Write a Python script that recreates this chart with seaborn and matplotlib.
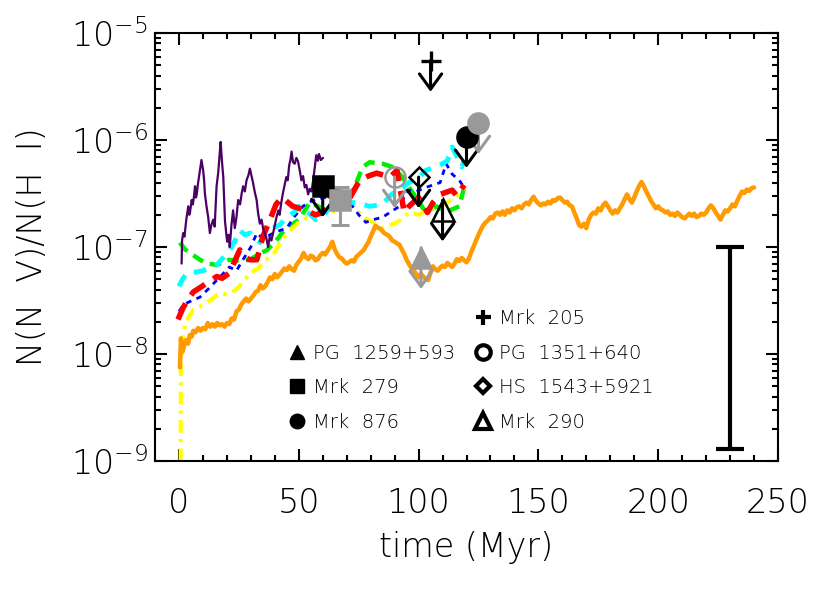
import matplotlib
matplotlib.use("Agg")
import matplotlib.pyplot as plt
import matplotlib.transforms as mtransforms
from matplotlib.lines import Line2D
from matplotlib.ticker import MultipleLocator, LogLocator, NullFormatter
import numpy as np
import seaborn as sns

# ------------------------------------------------------------------
# Simulated N(N V)/N(H I) tracks
# ------------------------------------------------------------------

orange_t = [0.4, 0.8, 1.5, 2.2, 3.0, 3.8, 4.5, 5.3, 6, 7, 8, 9, 10, 11, 12, 13, 14, 15,
            16, 17, 18, 19, 20, 21, 22, 23, 24, 25, 26, 27, 28, 29, 30, 31, 32, 33, 34,
            35, 36, 37, 38, 39, 40, 41, 42, 43, 44, 45, 46, 47, 48, 49, 50, 51, 52, 53,
            54, 55, 56, 57, 58, 59, 60, 61, 62, 63, 64, 65, 66, 67, 68, 69, 70, 71, 72,
            73, 74, 75, 76, 77, 78, 79, 80, 81, 82, 83, 84, 85, 86, 87, 88, 89, 90, 91,
            92, 93, 94, 95, 96, 97, 98, 99, 100, 101, 102, 103, 104, 105, 106, 107, 108,
            109, 110, 111, 112, 113, 114, 115, 116, 117, 118, 119, 120, 121, 122, 123,
            124, 125, 126, 127, 128, 129, 130, 131, 132, 133, 134, 135, 136, 137, 138,
            139, 140, 141, 142, 143, 144, 145, 146, 147, 148, 149, 150, 151, 152, 153,
            154, 155, 156, 157, 158, 159, 160, 161, 162, 163, 164, 165, 166, 167, 168,
            169, 170, 171, 172, 173, 174, 175, 176, 177, 178, 179, 180, 181, 182, 183,
            184, 185, 186, 187, 188, 189, 190, 191, 192, 193, 194, 195, 196, 197, 198,
            199, 200, 201, 202, 203, 204, 205, 206, 207, 208, 209, 210, 211, 212, 213,
            214, 215, 216, 217, 218, 219, 220, 221, 222, 223, 224, 225, 226, 227, 228,
            229, 230, 231, 232, 233, 234, 235, 236, 237, 238, 239, 240]
orange_val = [7.5e-9, 1.4e-8, 1.05e-8, 1.2e-8, 1.35e-8, 1.25e-8, 1.5e-8, 1.45e-8, 1.65e-8,
              1.6e-8, 1.75e-8, 1.65e-8, 1.75e-8, 1.7e-8, 1.95e-8, 1.8e-8, 1.9e-8, 1.8e-8,
              1.95e-8, 1.85e-8, 1.9e-8, 1.8e-8, 1.95e-8, 1.9e-8, 2.15e-8, 2.1e-8, 2.5e-8,
              2.6e-8, 2.9e-8, 3.1e-8, 3.3e-8, 3.1e-8, 3.3e-8, 3.5e-8, 3.8e-8, 3.9e-8,
              4.4e-8, 4.1e-8, 4.3e-8, 4.7e-8, 5.2e-8, 5.0e-8, 5.6e-8, 5.2e-8, 5.5e-8,
              5.9e-8, 6.3e-8, 6.1e-8, 6.6e-8, 6.2e-8, 6.0e-8, 6.8e-8, 7.3e-8, 7.8e-8,
              8.8e-8, 8.0e-8, 7.7e-8, 8.3e-8, 8.1e-8, 7.5e-8, 7.7e-8, 8.4e-8, 8.8e-8,
              8.5e-8, 9.2e-8, 1.0e-7, 1.12e-7, 9.5e-8, 8.6e-8, 8.0e-8, 7.8e-8, 7.3e-8,
              7.0e-8, 7.2e-8, 7.5e-8, 7.3e-8, 8.1e-8, 8.5e-8, 8.9e-8, 9.3e-8, 1.02e-7,
              1.1e-7, 1.25e-7, 1.4e-7, 1.58e-7, 1.52e-7, 1.48e-7, 1.4e-7, 1.33e-7, 1.3e-7,
              1.24e-7, 1.15e-7, 1.12e-7, 1.08e-7, 1.05e-7, 9.5e-8, 8.6e-8, 7.6e-8, 6.9e-8,
              6.4e-8, 6.0e-8, 5.6e-8, 5.2e-8, 5.6e-8, 5.3e-8, 5.0e-8, 4.9e-8, 5.8e-8,
              6.6e-8, 6.2e-8, 6.0e-8, 6.4e-8, 6.7e-8, 6.5e-8, 7.1e-8, 6.8e-8, 6.5e-8,
              7.0e-8, 7.7e-8, 7.4e-8, 7.9e-8, 7.5e-8, 7.2e-8, 7.8e-8, 9.0e-8, 1.02e-7,
              1.15e-7, 1.3e-7, 1.45e-7, 1.6e-7, 1.7e-7, 1.78e-7, 1.9e-7, 1.85e-7, 2.05e-7,
              2.1e-7, 2.0e-7, 2.15e-7, 2.0e-7, 2.2e-7, 2.1e-7, 2.3e-7, 2.2e-7, 2.35e-7,
              2.4e-7, 2.3e-7, 2.5e-7, 2.6e-7, 2.5e-7, 2.75e-7, 2.95e-7, 2.7e-7, 2.55e-7,
              2.45e-7, 2.55e-7, 2.5e-7, 2.65e-7, 2.55e-7, 2.75e-7, 2.7e-7, 2.85e-7, 2.9e-7,
              2.75e-7, 2.6e-7, 2.65e-7, 2.45e-7, 2.4e-7, 2.1e-7, 1.85e-7, 1.6e-7, 1.55e-7,
              1.65e-7, 1.5e-7, 1.8e-7, 2.0e-7, 2.1e-7, 2.05e-7, 2.3e-7, 2.2e-7, 2.45e-7,
              2.6e-7, 2.4e-7, 2.2e-7, 2.05e-7, 2.2e-7, 2.1e-7, 2.3e-7, 2.5e-7, 2.8e-7,
              3.1e-7, 2.8e-7, 2.6e-7, 2.9e-7, 3.3e-7, 3.7e-7, 4.05e-7, 3.7e-7, 3.3e-7,
              3.0e-7, 2.7e-7, 2.5e-7, 2.3e-7, 2.4e-7, 2.25e-7, 2.2e-7, 2.1e-7, 2.15e-7,
              2.0e-7, 2.05e-7, 1.95e-7, 2.1e-7, 2.0e-7, 1.9e-7, 1.85e-7, 1.95e-7, 2.05e-7,
              1.95e-7, 2.05e-7, 1.9e-7, 1.95e-7, 2.05e-7, 2.0e-7, 2.1e-7, 2.3e-7, 2.45e-7,
              2.3e-7, 2.1e-7, 1.95e-7, 1.8e-7, 2.0e-7, 2.2e-7, 2.15e-7, 2.3e-7, 2.5e-7,
              2.4e-7, 2.7e-7, 3.0e-7, 3.3e-7, 3.2e-7, 3.45e-7, 3.35e-7, 3.55e-7, 3.6e-7]

purple_t = [1.1, 1.3, 1.8, 2.3, 2.8, 3.2, 3.9, 4.3, 4.6, 5.3, 5.8, 6.3, 6.7, 7.1, 7.4, 8.0,
            8.75, 9.4, 10.1, 10.5, 10.8, 11.5, 12.2, 12.9, 13.5, 14.3, 14.9, 15.7, 16.4,
            17.0, 17.4, 17.9, 18.5, 19.2, 20.1, 20.7, 21.2, 21.9, 22.6, 23.3, 24.0, 24.7,
            25.5, 26.2, 26.8, 27.5, 28.2, 29.0, 29.6, 30.3, 30.9, 31.6, 32.4, 33.0, 33.75,
            34.5, 35.2, 35.8, 36.5, 37.2, 37.9, 38.6, 39.3, 40.0, 40.7, 41.5, 42.0, 42.7,
            43.4, 44.1, 44.8, 45.4, 46.0, 46.5, 47.0, 47.6, 48.3, 49.0, 49.7, 50.4, 51.1,
            51.8, 52.5, 53.2, 53.9, 54.6, 55.3, 56.0, 56.7, 57.3, 58.0, 58.4, 58.8, 59.2,
            59.5, 60.1]
purple_val = [7.0e-8, 1.16e-7, 1.35e-7, 1.25e-7, 1.6e-7, 1.9e-7, 2.4e-7, 2.0e-7, 2.1e-7,
              2.75e-7, 2.5e-7, 3.0e-7, 3.7e-7, 2.9e-7, 3.1e-7, 4.0e-7, 5.2e-7, 6.5e-7,
              5.2e-7, 4.2e-7, 3.2e-7, 2.4e-7, 1.9e-7, 1.35e-7, 1.6e-7, 1.8e-7, 1.55e-7,
              3.7e-7, 5.0e-7, 7.5e-7, 9.6e-7, 6.5e-7, 4.5e-7, 1.75e-7, 1.12e-7, 1.3e-7,
              1.0e-7, 1.6e-7, 2.2e-7, 1.5e-7, 1.9e-7, 2.75e-7, 2.5e-7, 3.2e-7, 3.7e-7,
              3.3e-7, 4.2e-7, 4.7e-7, 5.4e-7, 4.6e-7, 4.0e-7, 3.3e-7, 2.75e-7, 2.1e-7,
              1.65e-7, 1.8e-7, 1.45e-7, 1.35e-7, 1.2e-7, 1.0e-7, 1.25e-7, 1.15e-7, 1.35e-7,
              1.6e-7, 1.9e-7, 2.2e-7, 2.0e-7, 2.6e-7, 3.2e-7, 3.8e-7, 4.5e-7, 4.2e-7,
              5.8e-7, 6.5e-7, 7.8e-7, 6.2e-7, 6.0e-7, 6.8e-7, 6.3e-7, 5.2e-7, 4.2e-7,
              4.6e-7, 3.6e-7, 3.8e-7, 3.1e-7, 3.5e-7, 3.3e-7, 4.2e-7, 5.6e-7, 7.2e-7,
              6.4e-7, 7.4e-7, 7.0e-7, 6.5e-7, 6.6e-7, 6.8e-7]

yellow_t = [0.7, 0.8, 1.5, 2.5, 4, 6, 9, 11.5, 14, 17, 20, 24, 27, 29.6, 33, 36.5, 40, 43,
            46, 50, 53, 57, 61, 66, 71, 74, 77, 81, 85, 88, 91, 94, 96, 100, 103, 106, 109,
            112, 114, 117, 119]
yellow_val = [1.0e-9, 8.0e-9, 1.3e-8, 1.9e-8, 2.2e-8, 2.6e-8, 2.8e-8, 3.0e-8, 3.3e-8, 3.7e-8,
              3.6e-8, 4.0e-8, 4.8e-8, 5.7e-8, 6.3e-8, 7.6e-8, 9.0e-8, 1.16e-7, 1.4e-7,
              1.7e-7, 1.85e-7, 2.0e-7, 2.1e-7, 2.2e-7, 2.4e-7, 2.2e-7, 1.9e-7, 1.7e-7,
              1.5e-7, 1.6e-7, 1.7e-7, 1.9e-7, 2.1e-7, 2.0e-7, 2.2e-7, 2.3e-7, 2.4e-7,
              2.6e-7, 2.8e-7, 3.1e-7, 3.6e-7]

blue_t = [0.0, 1.5, 3.3, 6, 8.75, 12, 15.8, 18, 21, 24, 26.7, 30, 32.5, 35, 38, 41, 45, 48,
          51.7, 54, 57, 61, 66, 69, 72.5, 75, 78, 81, 85, 88, 92, 94, 96, 99, 103, 106, 109,
          111.5, 114, 117, 119]
blue_val = [2.5e-8, 2.8e-8, 3.0e-8, 3.2e-8, 3.4e-8, 4.0e-8, 4.9e-8, 5.5e-8, 6.5e-8, 6.0e-8,
            7.6e-8, 1.0e-7, 1.35e-7, 1.2e-7, 1.3e-7, 1.4e-7, 1.5e-7, 1.9e-7, 2.4e-7, 2.6e-7,
            2.8e-7, 2.9e-7, 3.1e-7, 2.6e-7, 2.4e-7, 2.0e-7, 1.7e-7, 1.8e-7, 1.9e-7, 2.1e-7,
            2.4e-7, 2.9e-7, 3.4e-7, 3.3e-7, 3.6e-7, 3.8e-7, 4.0e-7, 6.0e-7, 4.8e-7, 4.2e-7,
            3.6e-7]

cyan_t = [0.0, 1.5, 3.3, 6.5, 10, 13, 15.8, 18.5, 21, 23, 25.4, 27.5, 29.6, 33.8, 36.5, 39,
          42, 45, 48, 50, 53, 57, 60, 63, 68.5, 74, 79.6, 85, 88, 91, 94, 96, 100, 103, 106,
          110, 112, 114, 116, 118, 119]
cyan_val = [4.3e-8, 5.0e-8, 5.7e-8, 5.8e-8, 6.0e-8, 6.4e-8, 6.8e-8, 8.0e-8, 9.3e-8, 1.1e-7,
            1.43e-7, 1.3e-7, 1.35e-7, 1.1e-7, 1.3e-7, 1.5e-7, 1.6e-7, 1.9e-7, 2.1e-7, 2.4e-7,
            2.2e-7, 1.8e-7, 1.9e-7, 2.4e-7, 2.6e-7, 2.6e-7, 2.4e-7, 2.5e-7, 3.0e-7, 3.4e-7,
            3.7e-7, 4.0e-7, 4.4e-7, 5.2e-7, 5.5e-7, 6.0e-7, 6.4e-7, 8.6e-7, 7.0e-7, 5.6e-7,
            6.5e-7]

red_t = [-0.4, 1.7, 4, 6, 9, 11.7, 15.8, 18, 21, 25.4, 27.5, 29.6, 32.5, 35, 38, 40.5, 43,
         47.5, 53, 57, 60, 63, 66, 71, 75.4, 79, 82.5, 88, 91, 94, 96, 100, 103.7, 106,
         109, 114, 116, 119]
red_val = [2.1e-8, 2.7e-8, 3.3e-8, 3.8e-8, 4.2e-8, 4.6e-8, 5.3e-8, 5.1e-8, 5.7e-8, 9.4e-8,
           8.0e-8, 7.6e-8, 7.6e-8, 1.25e-7, 1.8e-7, 2.5e-7, 2.9e-7, 2.4e-7, 2.2e-7, 2.0e-7,
           2.1e-7, 2.8e-7, 3.4e-7, 2.8e-7, 4.2e-7, 4.6e-7, 4.9e-7, 4.5e-7, 5.2e-7, 2.1e-7,
           2.4e-7, 2.9e-7, 2.1e-7, 2.6e-7, 3.1e-7, 3.4e-7, 3.0e-7, 3.8e-7]

green_t = [0.4, 2.5, 4.6, 8.75, 12, 15.8, 18.5, 21, 25, 29.6, 33, 36.5, 40, 43, 46, 50,
           54.6, 58, 61.5, 66, 70, 73, 76.7, 79.6, 85, 89, 93.3, 96, 99, 103, 107.5, 110,
           113, 117, 119]
green_val = [1.1e-7, 9.5e-8, 8.8e-8, 7.6e-8, 7.0e-8, 6.8e-8, 7.2e-8, 7.6e-8, 7.4e-8, 7.6e-8,
             8.5e-8, 9.3e-8, 1.1e-7, 1.35e-7, 1.55e-7, 1.8e-7, 2.6e-7, 2.4e-7, 2.2e-7,
             2.5e-7, 2.8e-7, 3.5e-7, 5.6e-7, 6.2e-7, 6.0e-7, 5.6e-7, 4.5e-7, 3.6e-7, 2.9e-7,
             2.1e-7, 2.4e-7, 2.2e-7, 2.2e-7, 2.4e-7, 3.6e-7]

# ------------------------------------------------------------------
# Observed sight lines (black / gray sets), upper limits marked
# ------------------------------------------------------------------

obs_label = ["Mrk 279", "Mrk 279", "PG 1351+640", "HS 1543+5921", "Mrk 205",
             "Mrk 876", "Mrk 876", "PG 1259+593", "Mrk 290"]
obs_group = ["black", "gray", "gray", "black", "black", "black", "gray", "gray", "black"]
obs_time = [60, 67, 90, 100, 105, 120, 125, 101, 110]
obs_value = [3.7e-7, 2.75e-7, 4.5e-7, 4.5e-7, 5.5e-6, 1.07e-6, 1.44e-6, 7.9e-8, 2.2e-7]
obs_upper_limit = [True, False, True, True, True, True, True, True, True]
obs_err_low = [None, 1.6e-7, None, None, None, None, None, None, None]
obs_err_high = [None, 3.6e-7, None, None, None, None, None, None, None]

# typical uncertainty bar drawn at the right
sys_time = 230
sys_low = 1.3e-9
sys_high = 1.0e-7

legend_left = ["", "PG  1259+593", "Mrk  279", "Mrk  876"]
legend_right = ["Mrk  205", "PG  1351+640", "HS  1543+5921", "Mrk  290"]

# ------------------------------------------------------------------
# Styles
# ------------------------------------------------------------------

GRAY = "#999999"
group_color = {"black": "black", "gray": GRAY}
marker_style = {
    "Mrk 279": dict(marker="s", ms=14.5, filled=True),
    "PG 1351+640": dict(marker="o", ms=14.5, filled=False),
    "HS 1543+5921": dict(marker="D", ms=10.5, filled=False),
    "Mrk 205": dict(marker="+", ms=15, filled=True),
    "Mrk 876": dict(marker="o", ms=14.5, filled=True),
    "PG 1259+593": dict(marker="^", ms=14, filled=True),
    "Mrk 290": dict(marker="^", ms=16, filled=False),
}

sns.set_style("ticks")
plt.rcParams.update({
    "font.family": ["DejaVu Sans"],
    "font.weight": "light",
    "axes.labelweight": "light",
    "mathtext.default": "regular",
    "text.color": "black",
    "axes.labelcolor": "black",
    "axes.edgecolor": "black",
    "xtick.color": "black",
    "ytick.color": "black",
})

fig = plt.figure(figsize=(8.3, 5.93), dpi=100)
fig.patch.set_facecolor("white")
ax = fig.add_axes([155 / 830, 1 - 461 / 593, 623 / 830, 428 / 593])

tracks = [
    (green_t, green_val, "#00ee00", 3.2, (0, (2.6, 1.6))),
    (yellow_t, yellow_val, "#ffff00", 3.0, (0, (3.0, 1.5, 0.8, 1.5))),
    (blue_t, blue_val, "#0000ff", 2.0, (0, (2.0, 2.0))),
    (cyan_t, cyan_val, "#00ffff", 3.5, (0, (2.6, 2.0))),
    (red_t, red_val, "#ff0000", 4.0, (0, (3.2, 1.8))),
    (orange_t, orange_val, "#ff9a00", 3.2, "-"),
    (purple_t, purple_val, "#4b0066", 1.6, "-"),
]
for t, v, col, lw, ls in tracks:
    sns.lineplot(x=t, y=v, ax=ax, color=col, linewidth=lw, linestyle=ls,
                 estimator=None, sort=False)

ax.set_yscale("log")
ax.set_xlim(-10, 250)
ax.set_ylim(1e-9, 1e-5)

# observed points
arrow_len = 31  # pixels
for name, grp, t, v, ul, lo, hi in zip(obs_label, obs_group, obs_time, obs_value,
                                       obs_upper_limit, obs_err_low, obs_err_high):
    st = marker_style[name]
    col = group_color[grp]
    if ul:
        start = 10 if st["marker"] == "^" else 0
        tail = mtransforms.offset_copy(ax.transData, fig=fig, x=0, y=start, units="dots")
        head = mtransforms.offset_copy(ax.transData, fig=fig, x=0, y=-arrow_len, units="dots")
        ax.annotate("", xy=(t, v), xycoords=head, xytext=(t, v), textcoords=tail,
                    arrowprops=dict(arrowstyle="->,head_length=0.55,head_width=0.4",
                                    color=col, lw=2.2, shrinkA=0, shrinkB=0,
                                    mutation_scale=20), zorder=5)
    if lo is not None:
        ax.errorbar([t], [v], yerr=[[v - lo], [hi - v]], fmt="none", ecolor=col,
                    elinewidth=2.2, capsize=6.5, capthick=2.2, zorder=5)
    face = col if st["filled"] else "none"
    ax.plot([t], [v], linestyle="none", marker=st["marker"], ms=st["ms"],
            mfc=face, mec=col, mew=2.4 if st["marker"] == "+" else 1.8, zorder=6)

# systematic uncertainty bar
ax.errorbar([sys_time], [sys_high], yerr=[[sys_high - sys_low], [0]], fmt="none",
            ecolor="black", elinewidth=3, capsize=10, capthick=3)

# legend: two columns, first slot on the left left empty
handles = [Line2D([], [], linestyle="none")]
for name in ["PG 1259+593", "Mrk 279", "Mrk 876", "Mrk 205", "PG 1351+640",
             "HS 1543+5921", "Mrk 290"]:
    st = marker_style[name]
    ms = st["ms"] * 0.72
    handles.append(Line2D([], [], linestyle="none", marker=st["marker"], ms=ms,
                          mfc="black" if st["filled"] else "none", mec="black",
                          mew=3.0 if (not st["filled"] or st["marker"] == "+") else 1.0))
leg = ax.legend(handles, legend_left + legend_right, ncol=2, frameon=False,
                loc="upper left", bbox_to_anchor=(0.215, 0.355), borderaxespad=0,
                borderpad=0, fontsize=14, handlelength=0.8, handletextpad=0.45,
                columnspacing=1.0, labelspacing=0.8)
for txt in leg.get_texts():
    txt.set_color("black")

# axes cosmetics (IDL-like inward ticks on all four sides)
ax.xaxis.set_major_locator(MultipleLocator(50))
ax.xaxis.set_minor_locator(MultipleLocator(10))
ax.yaxis.set_major_locator(LogLocator(base=10, numticks=10))
ax.yaxis.set_minor_locator(LogLocator(base=10, subs=np.arange(2, 10), numticks=10))
ax.yaxis.set_minor_formatter(NullFormatter())
ax.tick_params(which="both", direction="in", top=True, right=True, width=1.5,
               labelsize=24)
ax.tick_params(which="major", length=8.5)
ax.tick_params(which="minor", length=4.5)
ax.tick_params(axis="x", which="major", pad=19)
ax.tick_params(axis="y", which="major", pad=5)
for sp in ax.spines.values():
    sp.set_linewidth(1.5)

ax.set_xlabel("time (Myr)", fontsize=24, fontweight="light", labelpad=8)
ax.set_ylabel("N(N  V)/N(H  I)", fontsize=24, fontweight="light", labelpad=16)

fig.savefig("out.png", dpi=100, facecolor="white")
